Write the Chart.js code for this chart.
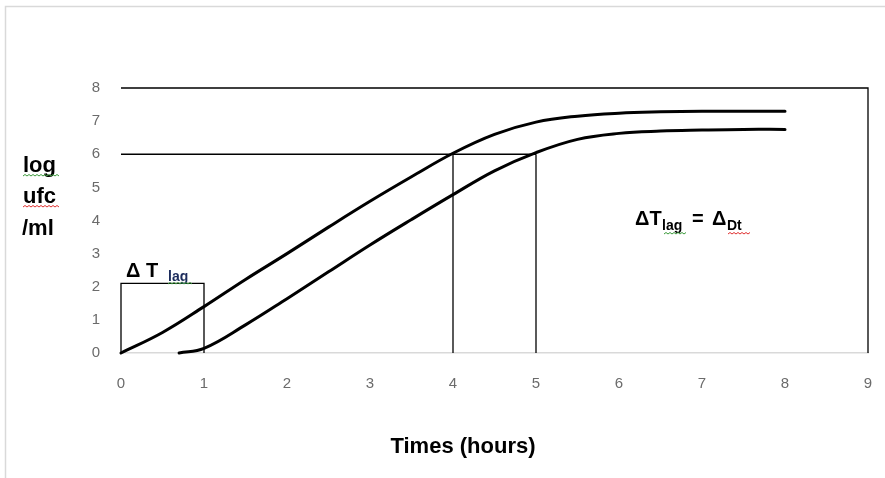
<!DOCTYPE html>
<html>
<head>
<meta charset="utf-8">
<script src="https://cdn.jsdelivr.net/npm/chart.js@4"></script>
<style>
  html, body { margin: 0; padding: 0; background: #fff; }
  #wrap { width: 885px; height: 478px; position: relative; }
</style>
</head>
<body>
<div id="wrap"><canvas id="growthChart" width="885" height="478"></canvas></div>
<script>
// growth curves: time (hours) vs log ufc/ml
const timeUpper = [0, 0.5, 1, 1.5, 2, 2.5, 3, 3.5, 4, 4.5, 5, 5.5, 6, 6.5, 7, 7.5, 8];
const logUpper  = [0, 0.62, 1.4, 2.22, 3.0, 3.8, 4.58, 5.32, 6.03, 6.6, 6.97, 7.15, 7.24, 7.28, 7.3, 7.3, 7.3];
const timeLower = [0.7, 1, 1.5, 2, 2.5, 3, 3.5, 4, 4.5, 5, 5.5, 6, 6.5, 7, 7.5, 8];
const logLower  = [0, 0.14, 0.85, 1.64, 2.45, 3.26, 4.03, 4.78, 5.5, 6.05, 6.45, 6.63, 6.7, 6.73, 6.75, 6.75];

// guide lines
const thresholdLog = 6;
const thresholdTimes = [4, 5];
const lagBoxTime = [0, 1];
const lagBoxHeight = 2.1;

const xTicks = [0, 1, 2, 3, 4, 5, 6, 7, 8, 9];
const yTicks = [0, 1, 2, 3, 4, 5, 6, 7, 8];

function toPoints(xs, ys) {
    return xs.map((x, i) => ({ x: x, y: ys[i] }));
}

function guide(points) {
    return {
        data: points,
        borderColor: '#000',
        borderWidth: 1.3,
        pointRadius: 0,
        tension: 0,
        clip: false
    };
}

const guideSets = [
    guide([{ x: 0, y: thresholdLog }, { x: thresholdTimes[1], y: thresholdLog }]),
    guide([{ x: thresholdTimes[0], y: 0 }, { x: thresholdTimes[0], y: thresholdLog }]),
    guide([{ x: thresholdTimes[1], y: 0 }, { x: thresholdTimes[1], y: thresholdLog }]),
    guide([{ x: lagBoxTime[0], y: 0 }, { x: lagBoxTime[0], y: lagBoxHeight },
           { x: lagBoxTime[1], y: lagBoxHeight }, { x: lagBoxTime[1], y: 0 }])
];

function curve(points) {
    return {
        data: points,
        borderColor: '#000',
        borderWidth: 3,
        borderCapStyle: 'round',
        pointRadius: 0,
        tension: 0.4,
        clip: false
    };
}

// squiggly underline like a spell checker mark
function squiggle(ctx, x0, x1, y, color) {
    ctx.save();
    ctx.strokeStyle = color;
    ctx.lineWidth = 1;
    ctx.beginPath();
    let up = true;
    ctx.moveTo(x0, y);
    for (let x = x0 + 2; x <= x1; x += 2) {
        ctx.lineTo(x, up ? y - 1.5 : y);
        up = !up;
    }
    ctx.stroke();
    ctx.restore();
}

const decorations = {
    id: 'decorations',
    beforeDraw(chart) {
        const ctx = chart.ctx;
        ctx.save();
        ctx.fillStyle = '#fff';
        ctx.fillRect(0, 0, chart.width, chart.height);
        ctx.strokeStyle = '#d9d9d9';
        ctx.lineWidth = 1.5;
        ctx.strokeRect(5.5, 6.5, 900, 500);
        ctx.restore();
    },
    afterDraw(chart) {
        const ctx = chart.ctx;
        const a = chart.chartArea;
        ctx.save();
        // top and right frame
        ctx.strokeStyle = '#000';
        ctx.lineWidth = 1.3;
        ctx.beginPath();
        ctx.moveTo(a.left, a.top);
        ctx.lineTo(a.right, a.top);
        ctx.lineTo(a.right, a.bottom);
        ctx.stroke();

        ctx.fillStyle = '#000';
        ctx.textBaseline = 'alphabetic';
        // y axis title
        ctx.font = 'bold 22px "Liberation Sans", Arial, sans-serif';
        ctx.fillText('log', 23, 172);
        ctx.fillText('ufc', 23, 203);
        ctx.fillText('/ml', 22, 235);
        squiggle(ctx, 23, 60, 176, '#3a9a3a');
        squiggle(ctx, 23, 60, 207, '#e03030');

        // x axis title
        ctx.textAlign = 'center';
        ctx.font = 'bold 22px "Liberation Sans", Arial, sans-serif';
        ctx.fillText('Times (hours)', 463, 453);
        ctx.textAlign = 'left';

        // delta T lag above the lag box
        ctx.font = 'bold 20px "Liberation Sans", Arial, sans-serif';
        ctx.fillText('\u0394 T', 126, 277);
        ctx.fillStyle = '#1c2c5c';
        ctx.font = 'bold 14px "Liberation Sans", Arial, sans-serif';
        ctx.fillText('lag', 168, 281);
        squiggle(ctx, 168, 193, 284, '#3a9a3a');

        // delta T lag = delta Dt
        ctx.fillStyle = '#000';
        ctx.font = 'bold 20px "Liberation Sans", Arial, sans-serif';
        ctx.fillText('\u0394T', 635, 225);
        ctx.fillText('=', 692, 225);
        ctx.fillText('\u0394', 712, 225);
        ctx.font = 'bold 14px "Liberation Sans", Arial, sans-serif';
        ctx.fillText('lag', 662, 230);
        ctx.fillText('Dt', 727, 230);
        squiggle(ctx, 664, 687, 234, '#3a9a3a');
        squiggle(ctx, 728, 750, 234, '#e03030');
        ctx.restore();
    }
};

new Chart(document.getElementById('growthChart'), {
    type: 'line',
    data: {
        datasets: [
            curve(toPoints(timeUpper, logUpper)),
            curve(toPoints(timeLower, logLower))
        ].concat(guideSets)
    },
    options: {
        responsive: false,
        animation: false,
        events: [],
        layout: { padding: { left: 0, top: 88, right: 17, bottom: 0 } },
        plugins: {
            legend: { display: false },
            tooltip: { enabled: false }
        },
        scales: {
            x: {
                type: 'linear',
                min: 0,
                max: 9,
                afterBuildTicks: (s) => { s.ticks = xTicks.map(v => ({ value: v })); },
                afterFit: (s) => { s.height = 125; s.paddingLeft = 0; s.paddingRight = 0; },
                grid: { display: false, drawTicks: false },
                border: { display: true, color: '#d9d9d9', width: 1.5 },
                ticks: {
                    padding: 22,
                    color: '#6b6b6b',
                    font: { family: '"Liberation Sans", Arial, sans-serif', size: 15 }
                }
            },
            y: {
                min: 0,
                max: 8,
                afterBuildTicks: (s) => { s.ticks = yTicks.map(v => ({ value: v })); },
                afterFit: (s) => { s.width = 121; s.paddingTop = 0; s.paddingBottom = 0; },
                grid: { display: false, drawTicks: false },
                border: { display: false },
                ticks: {
                    padding: 21,
                    color: '#6b6b6b',
                    font: { family: '"Liberation Sans", Arial, sans-serif', size: 15 }
                }
            }
        }
    },
    plugins: [decorations]
});
</script>
</body>
</html>
